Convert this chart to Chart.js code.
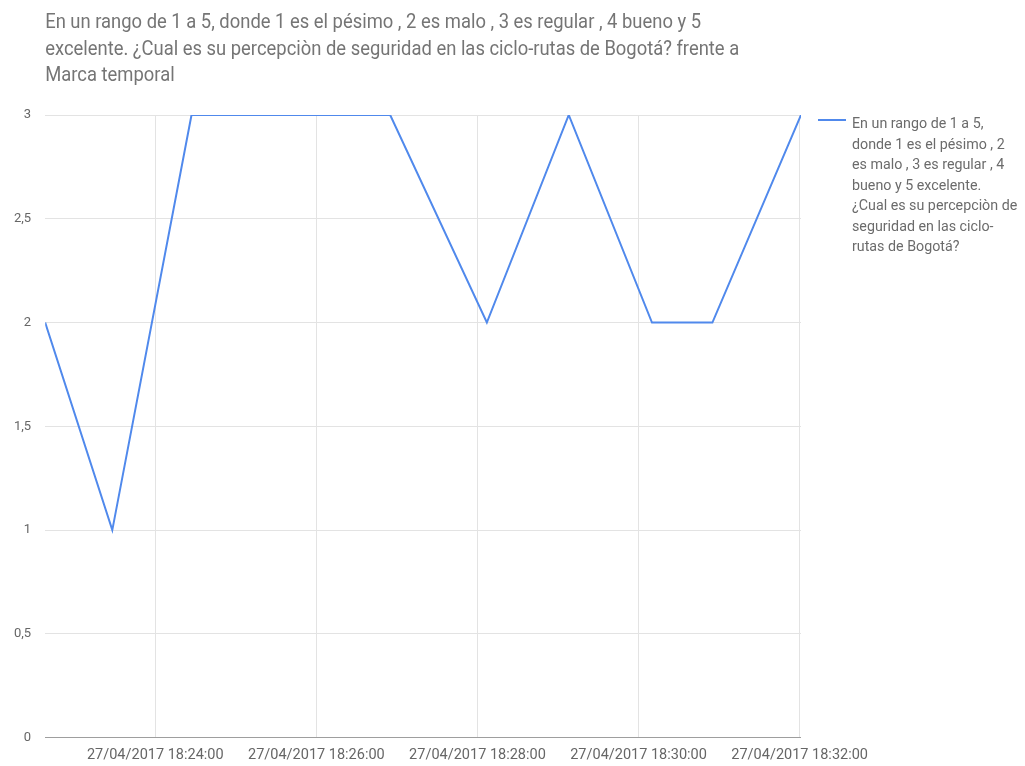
<!DOCTYPE html>
<html>
<head>
<meta charset="utf-8">
<script src="https://cdn.jsdelivr.net/npm/chart.js@4.4.1/dist/chart.umd.min.js"></script>
<style>
html,body{margin:0;padding:0;background:#fff;}
#wrap{position:relative;width:1025px;height:766px;}
</style>
</head>
<body>
<div id="wrap"><canvas id="c"></canvas></div>
<script>
// Data
const datePrefix = "27/04/2017";
const timestamps = ["18:22:38","18:23:28","18:24:27","18:26:55","18:28:07","18:29:08","18:30:10","18:30:55","18:32:01"];
const seguridad = [2, 1, 3, 3, 2, 3, 2, 2, 3];
const xTickTimes = ["18:24:00","18:26:00","18:28:00","18:30:00","18:32:00"];
const titleLines = [
  "En un rango de 1 a 5, donde 1 es el pésimo , 2 es malo , 3 es regular , 4 bueno y 5",
  "excelente. ¿Cual es su percepciòn de seguridad en las ciclo-rutas de Bogotá? frente a",
  "Marca temporal"
];
const legendLines = [
  "En un rango de 1 a 5,",
  "donde 1 es el pésimo , 2",
  "es malo , 3 es regular , 4",
  "bueno y 5 excelente.",
  "¿Cual es su percepciòn de",
  "seguridad en las ciclo-",
  "rutas de Bogotá?"
];

function toSec(t){const p=t.split(":").map(Number);return p[0]*3600+p[1]*60+p[2];}
function fmt(s){const h=Math.floor(s/3600),m=Math.floor((s%3600)/60),x=s%60;
  const z=n=>String(n).padStart(2,"0");return datePrefix+" "+z(h)+":"+z(m)+":"+z(x);}
const xs = timestamps.map(toSec);
const pts = xs.map((x,i)=>({x:x,y:seguridad[i]}));
const tickVals = xTickTimes.map(toSec);
const lineColor = "#5089ec";
const squeeze = 0.92;

function squeezedText(ctx, text, x, y){
  ctx.save();
  ctx.translate(x, y);
  ctx.scale(squeeze, 1);
  ctx.fillText(text, 0, 0);
  ctx.restore();
}

const textPlugin = {
  id:"textPlugin",
  afterDraw(chart){
    const ctx=chart.ctx, a=chart.chartArea;
    ctx.save();
    ctx.fillStyle="#757575";
    ctx.font="20px Roboto";
    ctx.textBaseline="alphabetic";
    ctx.textAlign="left";
    titleLines.forEach((l,i)=>squeezedText(ctx, l, a.left, 28+i*26.7));
    // legend
    ctx.strokeStyle=lineColor; ctx.lineWidth=2;
    ctx.beginPath(); ctx.moveTo(818,120); ctx.lineTo(846,120); ctx.stroke();
    ctx.fillStyle="#6b6b6b";
    ctx.font="15.5px Roboto";
    legendLines.forEach((l,i)=>squeezedText(ctx, l, 852, 128+i*20.5));
    ctx.restore();
  }
};

new Chart(document.getElementById("c"),{
  type:"line",
  data:{datasets:[{
    label:legendLines.join(" "),
    data:pts,
    borderColor:lineColor,
    borderWidth:2,
    pointRadius:0,
    tension:0,
    fill:false
  }]},
  options:{
    responsive:true,
    maintainAspectRatio:false,
    animation:false,
    layout:{padding:{top:115,right:224,left:0,bottom:-7}},
    plugins:{legend:{display:false},title:{display:false},tooltip:{enabled:false}},
    scales:{
      x:{
        type:"linear",
        min:xs[0], max:xs[xs.length-1],
        afterBuildTicks(scale){scale.ticks=tickVals.map(v=>({value:v}));},
        ticks:{callback:(v)=>fmt(v),color:"#666",font:{family:"Roboto",size:14.5},maxRotation:0,autoSkip:false,padding:9},
        grid:{color:"#e3e3e3",drawTicks:false,lineWidth:1},
        border:{display:false}
      },
      y:{
        min:0,max:3,
        ticks:{stepSize:0.5,callback:(v)=>String(v).replace(".",","),color:"#666",font:{family:"Roboto",size:13},padding:14},
        grid:{color:(c)=>c.tick && c.tick.value===0 ? "#9e9e9e" : "#e3e3e3",drawTicks:false,lineWidth:1},
        border:{display:false}
      }
    }
  },
  plugins:[textPlugin]
});
</script>
</body>
</html>
